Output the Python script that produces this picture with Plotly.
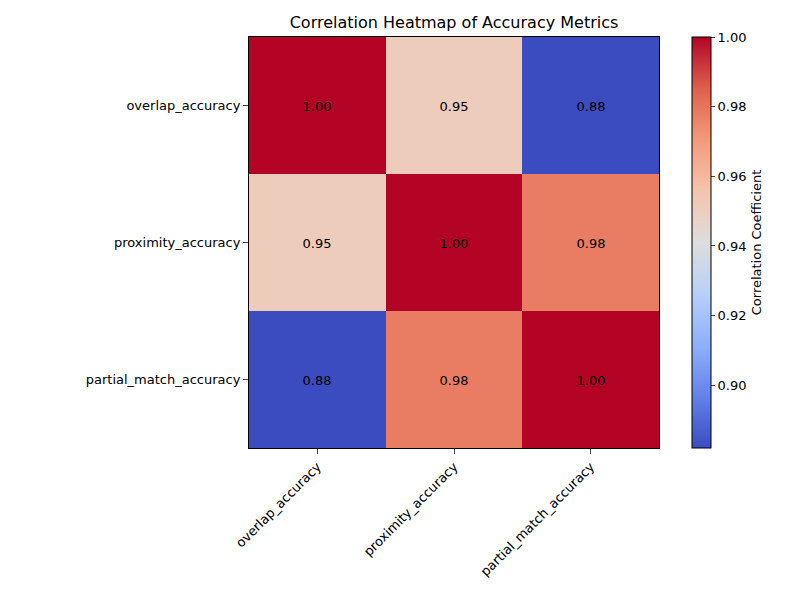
import plotly.graph_objects as go

metrics = ["overlap_accuracy", "proximity_accuracy", "partial_match_accuracy"]

# correlation matrix
overlap_row = [1.00, 0.951, 0.882]
proximity_row = [0.951, 1.00, 0.978]
partial_row = [0.882, 0.978, 1.00]
corr = [overlap_row, proximity_row, partial_row]

cbar_ticks = [0.90, 0.92, 0.94, 0.96, 0.98, 1.00]

# matplotlib "coolwarm"
coolwarm = [
    [0.0, "rgb(59,76,192)"],
    [0.125, "rgb(98,130,234)"],
    [0.25, "rgb(141,176,254)"],
    [0.375, "rgb(184,208,249)"],
    [0.5, "rgb(221,221,221)"],
    [0.625, "rgb(245,196,173)"],
    [0.75, "rgb(244,154,123)"],
    [0.875, "rgb(222,96,77)"],
    [1.0, "rgb(180,4,38)"],
]

zmin = min(min(r) for r in corr)

fig = go.Figure(go.Heatmap(
    z=corr,
    x=metrics,
    y=metrics,
    colorscale=coolwarm,
    zmin=zmin,
    zmax=1.0,
    text=corr,
    texttemplate="%{z:.2f}",
    textfont=dict(size=13, color="black"),
    hoverinfo="skip",
    colorbar=dict(
        title=dict(text="Correlation Coefficient", side="right", font=dict(size=13)),
        tickvals=cbar_ticks,
        ticktext=[f"{v:.2f}" for v in cbar_ticks],
        ticks="outside",
        ticklen=4,
        tickfont=dict(size=13),
        thickness=19,
        len=1.0,
        lenmode="fraction",
        x=1.08,
        xanchor="left",
        xpad=0,
        ypad=0,
        y=0.5,
        yanchor="middle",
        outlinecolor="black",
        outlinewidth=1,
    ),
))

# page body adds an 8px offset, margins below compensate for it
fig.update_layout(
    width=800,
    height=600,
    margin=dict(l=241, r=149, t=29, b=160),
    paper_bgcolor="white",
    plot_bgcolor="white",
    font=dict(family="DejaVu Sans", size=13, color="black"),
    title=dict(text="Correlation Heatmap of Accuracy Metrics", x=(241 + 205) / 800,
               xanchor="center", y=1 - 14 / 600, yanchor="middle", font=dict(size=16)),
)
fig.update_xaxes(tickangle=-45, ticks="outside", ticklen=5, showline=True, linecolor="black",
                 mirror=True, showgrid=False, zeroline=False)
fig.update_yaxes(autorange="reversed", ticks="outside", ticklen=5, showline=True, linecolor="black",
                 mirror=True, showgrid=False, zeroline=False)

fig.write_html("out.html")
